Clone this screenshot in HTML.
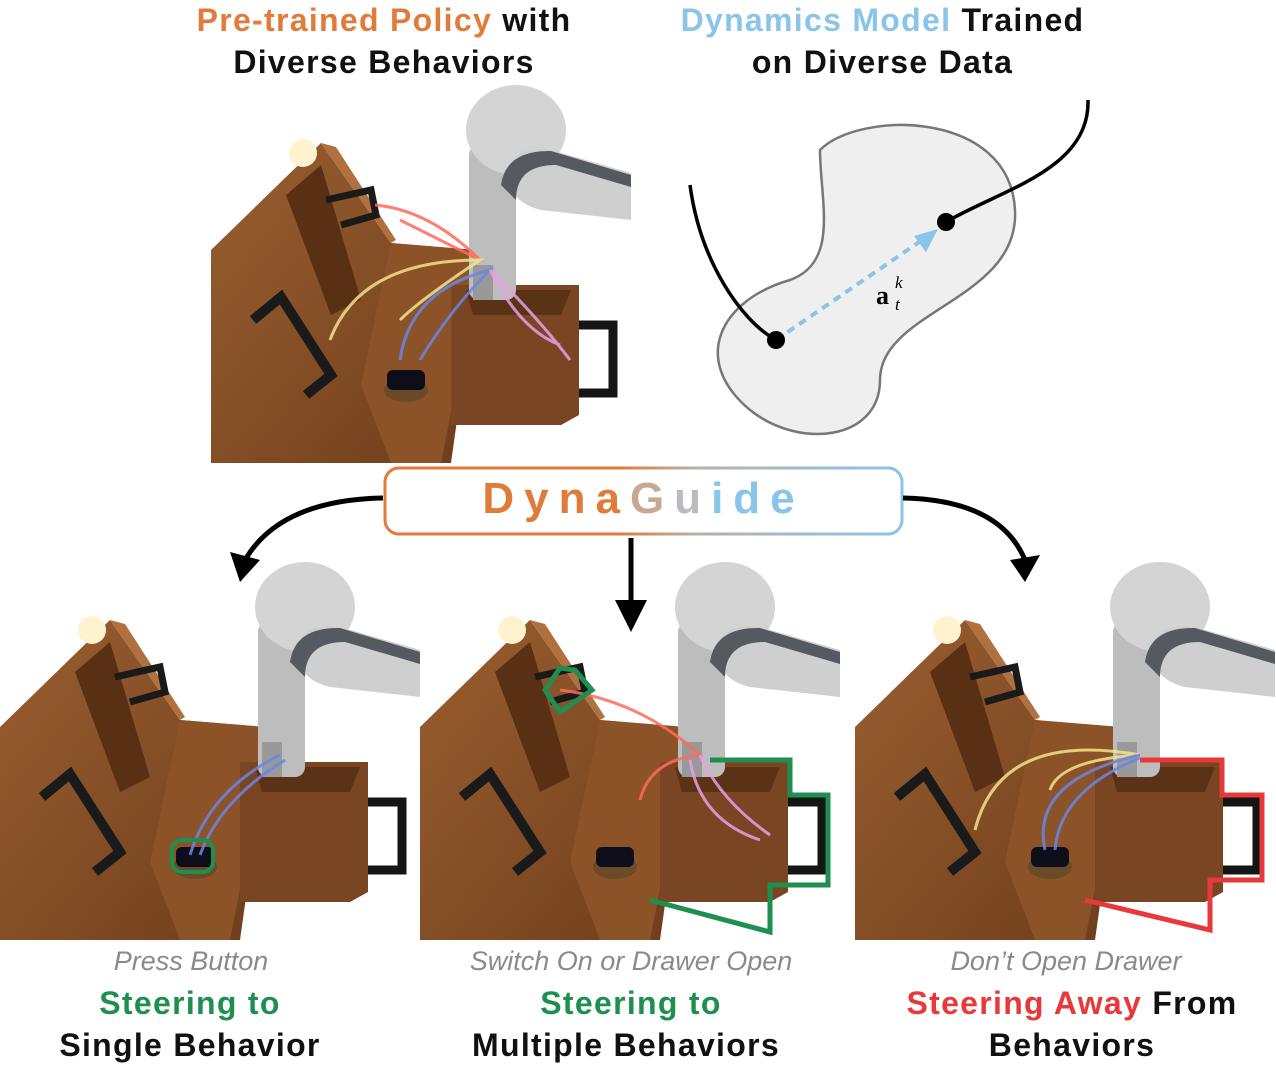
<!DOCTYPE html>
<html><head><meta charset="utf-8"><style>
body{margin:0;width:1276px;height:1072px;background:#fff;overflow:hidden;position:relative;font-family:"Liberation Sans",sans-serif}
.t{position:absolute;font-weight:bold;font-size:32px;letter-spacing:1.3px;text-align:center;white-space:nowrap;color:#111}
.i{position:absolute;font-style:italic;font-size:27px;color:#8a8a8a;text-align:center;white-space:nowrap}
</style></head><body>
<svg width="1276" height="1072" style="position:absolute;left:0;top:0">
<defs>
<linearGradient id="wd" x1="0" y1="0" x2="1" y2="1"><stop offset="0" stop-color="#9a5f30"/><stop offset="1" stop-color="#6e3d1c"/></linearGradient>
<linearGradient id="bg" x1="0" x2="1"><stop offset="0" stop-color="#e07b39"/><stop offset="0.45" stop-color="#e07b39"/><stop offset="0.6" stop-color="#b9b0a8"/><stop offset="1" stop-color="#8ac4e8"/></linearGradient>
<g id="scene">
<polygon points="0,165 110,58 180,158 265,165 265,200 240,378 0,378" fill="url(#wd)"/>
<polygon points="110,58 125,62 185,155 180,158" fill="#b07040"/>
<polygon points="75,110 110,80 150,215 120,230" fill="#5a3015"/>
<polygon points="180,158 265,165 265,200 230,378 180,378 150,300" fill="#8c5228"/>
<polygon points="240,200 368,200 368,330 350,340 240,340" fill="#7a4522"/>
<polygon points="255,205 360,205 350,230 262,230" fill="#5a3317"/>
<path d="M368 240 H402 V308 H368" fill="none" stroke="#151515" stroke-width="9"/>
<path d="M42 235 L70 212 L120 290 L95 310" fill="none" stroke="#1a1a1a" stroke-width="10"/>
<path d="M115 115 L160 105 L165 130 L130 140" fill="none" stroke="#1a1a1a" stroke-width="7"/>
<circle cx="92" cy="68" r="14" fill="#fff3cf"/>
<ellipse cx="195" cy="305" rx="22" ry="12" fill="#6b4a2a"/>
<rect x="176" y="285" width="38" height="20" rx="6" fill="#0e0e1a"/>
<rect x="258" y="60" width="47" height="155" rx="10" fill="#bdbdbd"/>
<rect x="262" y="180" width="20" height="35" fill="#999"/>
<ellipse cx="305" cy="45" rx="50" ry="45" fill="#d4d4d4"/>
<path d="M295 90 Q300 60 340 65 L420 88 L420 135 L330 125 Q300 118 295 90Z" fill="#cfcfcf"/>
<path d="M290 100 Q295 65 340 66 L420 90 L420 102 L345 80 Q305 80 305 115Z" fill="#555a60"/>
</g>
</defs>
<use href="#scene" x="211" y="85"/>
<use href="#scene" x="0" y="562"/>
<use href="#scene" x="420" y="562"/>
<use href="#scene" x="855" y="562"/>
<g fill="none" stroke-width="3" opacity="0.85">
<path d="M375 205 Q430 210 480 260 Q440 240 400 220" stroke="#ff6b5a"/>
<path d="M330 340 Q360 260 480 260 Q420 300 400 320" stroke="#f1e48a"/>
<path d="M400 360 Q410 290 490 270 Q450 310 420 360" stroke="#6a86e6"/>
<path d="M490 270 Q540 320 570 360 M490 270 Q520 330 560 345" stroke="#e7a0e6"/>
<path d="M190 855 Q210 790 280 755 M200 855 Q220 800 285 760" stroke="#6a86e6"/>
<path d="M560 690 Q640 700 700 755 Q650 760 640 800" stroke="#ff6b5a"/>
<path d="M700 755 Q720 800 770 835 M690 760 Q700 820 760 840" stroke="#e7a0e6"/>
<path d="M975 830 Q1000 730 1140 755 Q1060 760 1050 790" stroke="#f1e48a"/>
<path d="M1045 850 Q1030 780 1140 755 M1055 850 Q1060 790 1140 758" stroke="#6a86e6"/>
</g>
<rect x="172" y="840" width="41" height="32" rx="10" fill="none" stroke="#1e8f4e" stroke-width="4"/>
<path d="M545 690 L560 668 L575 670 L592 690 L560 712 Z" fill="none" stroke="#1e8f4e" stroke-width="5"/>
<path d="M710 760 L790 760 L790 795 L828 795 L828 885 L770 885 L770 932 L650 900" fill="none" stroke="#1e8f4e" stroke-width="5"/>
<path d="M1140 760 L1222 760 L1222 795 L1262 795 L1262 880 L1210 880 L1210 930 L1085 900" fill="none" stroke="#e8383a" stroke-width="5"/>
<path d="M820 150 C860 110 1010 110 1015 210 C1020 300 880 310 880 380 C880 440 800 450 750 410 C690 360 720 300 790 280 C840 262 820 200 820 150Z" fill="#efefef" stroke="#777" stroke-width="2.5"/>
<path d="M690 185 C700 260 740 320 776 340" fill="none" stroke="#000" stroke-width="3.5"/>
<path d="M1088 100 C1090 170 1000 190 946 222" fill="none" stroke="#000" stroke-width="3.5"/>
<line x1="776" y1="340" x2="925" y2="238" stroke="#8ac4e8" stroke-width="4" stroke-dasharray="8,6"/>
<polygon points="938,229 914,236 926,252" fill="#8ac4e8"/>
<circle cx="776" cy="340" r="9" fill="#000"/><circle cx="946" cy="222" r="9" fill="#000"/>
<text x="876" y="304" font-family="Liberation Serif" font-weight="bold" font-size="26">a</text>
<text x="895" y="288" font-family="Liberation Serif" font-style="italic" font-size="17">k</text>
<text x="895" y="310" font-family="Liberation Serif" font-style="italic" font-size="17">t</text>
<rect x="385" y="468" width="517" height="66" rx="14" fill="#fff" stroke="url(#bg)" stroke-width="3"/>
<path d="M383 498 Q280 500 245 560" fill="none" stroke="#000" stroke-width="5"/>
<polygon points="230,552 240,582 260,560" fill="#000"/>
<path d="M903 498 Q1000 500 1025 560" fill="none" stroke="#000" stroke-width="5"/>
<polygon points="1010,560 1025,582 1040,555" fill="#000"/>
<line x1="631" y1="538" x2="631" y2="605" stroke="#000" stroke-width="5"/>
<polygon points="615,600 647,600 631,632" fill="#000"/>
</svg>
<div class="t" style="left:184px;top:2px;width:400px"><span style="color:#e07b39">Pre-trained Policy</span> with</div>
<div class="t" style="left:184px;top:44px;width:400px">Diverse Behaviors</div>
<div class="t" style="left:650px;top:2px;width:465px"><span style="color:#8ac4e8">Dynamics Model</span> Trained</div>
<div class="t" style="left:650px;top:44px;width:465px">on Diverse Data</div>
<div class="t" style="left:385px;top:474px;width:517px;font-size:44px;letter-spacing:10px"><span style="color:#e07b39">Dyna</span><span style="color:#c8a890">G</span><span style="color:#b8bcc0">u</span><span style="color:#8ac4e8">ide</span></div>
<div class="i" style="left:0;top:946px;width:382px">Press Button</div>
<div class="t" style="left:0;top:985px;width:380px;color:#1e8f4e">Steering to</div>
<div class="t" style="left:0;top:1027px;width:380px">Single Behavior</div>
<div class="i" style="left:431px;top:946px;width:400px">Switch On or Drawer Open</div>
<div class="t" style="left:424px;top:985px;width:414px;color:#1e8f4e">Steering to</div>
<div class="t" style="left:424px;top:1027px;width:404px">Multiple Behaviors</div>
<div class="i" style="left:866px;top:946px;width:400px">Don’t Open Drawer</div>
<div class="t" style="left:872px;top:985px;width:400px"><span style="color:#e8383a">Steering Away</span> From</div>
<div class="t" style="left:872px;top:1027px;width:400px">Behaviors</div>
</body></html>
